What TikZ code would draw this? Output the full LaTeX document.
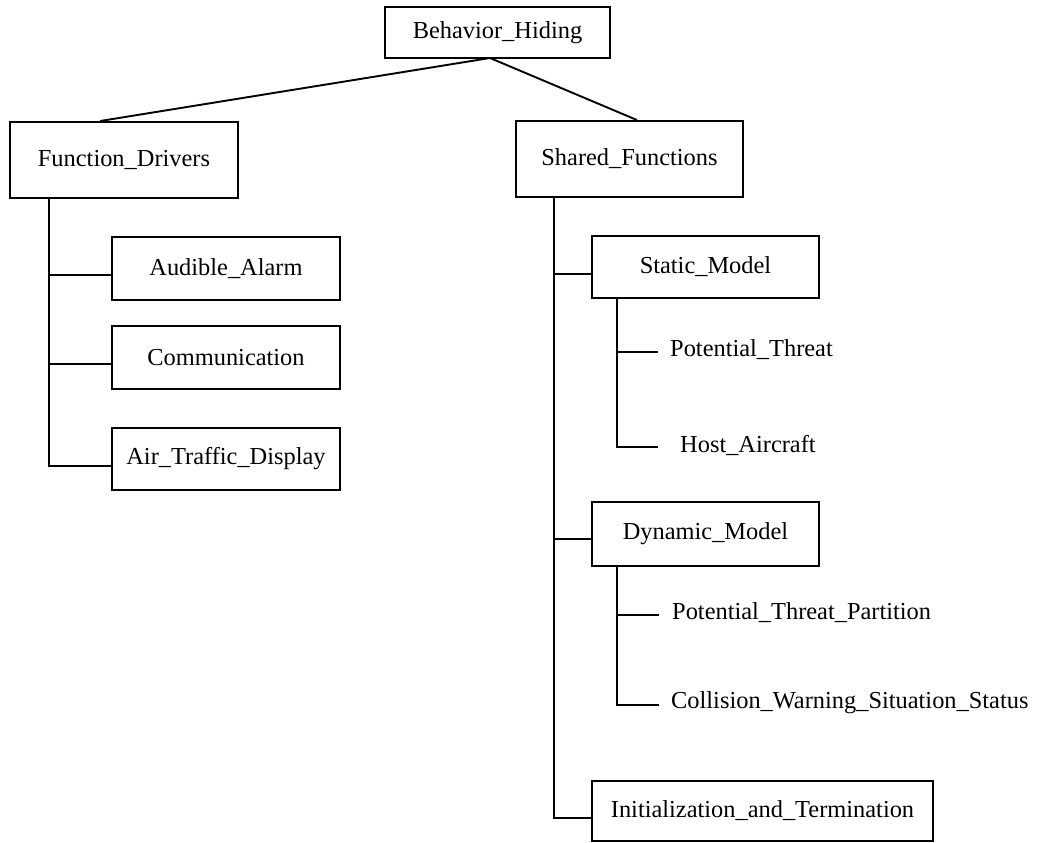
\documentclass[tikz,border=0pt]{standalone}
\usepackage{fontspec}
\setmainfont{Liberation Serif}
\usetikzlibrary{calc}
\begin{document}
\begin{tikzpicture}[x=1pt,y=-1pt,
  every node/.style={font=\fontsize{24.4}{28}\selectfont},
  box/.style={draw,line width=1.9pt,inner sep=0pt,align=center},
  leaf/.style={anchor=west,inner sep=0pt},
  link/.style={line width=1.9pt,line join=miter}]
\useasboundingbox (0,0) rectangle (1037,843);

% modules
\node[box,minimum width=225pt,minimum height=51pt] (bh)  at (497.5,32.5) {Behavior\_Hiding};
\node[box,minimum width=228pt,minimum height=76pt] (fd)  at (124,160)    {Function\_Drivers};
\node[box,minimum width=227pt,minimum height=76pt] (sf)  at (629.5,159)  {Shared\_Functions};
\node[box,minimum width=228pt,minimum height=63pt] (aa)  at (226,268.5)  {Audible\_Alarm};
\node[box,minimum width=228pt,minimum height=63pt] (com) at (226,357.5)  {Communication};
\node[box,minimum width=228pt,minimum height=62pt] (atd) at (226,459)    {Air\_Traffic\_Display};
\node[box,minimum width=227pt,minimum height=62pt] (sm)  at (705.5,267)  {Static\_Model};
\node[box,minimum width=227pt,minimum height=64pt] (dm)  at (705.5,534)  {Dynamic\_Model};
\node[box,minimum width=341pt,minimum height=60pt] (it)  at (762.5,811)  {Initialization\_and\_Termination};

% leaf objects
\node[leaf] (pt)  at (670,350) {Potential\_Threat};
\node[leaf] (ha)  at (680,445) {Host\_Aircraft};
\node[leaf] (ptp) at (672,613) {Potential\_Threat\_Partition};
\node[leaf] (cws) at (671,703) {Collision\_Warning\_Situation\_Status};

% attachment points of the branches
\coordinate (aaj)  at ([yshift=-6.5pt]aa.west);
\coordinate (comj) at ([yshift=-6.5pt]com.west);
\coordinate (atdj) at ([yshift=-7pt]atd.west);
\coordinate (smj)  at ([yshift=-7pt]sm.west);
\coordinate (dmj)  at ([yshift=-5pt]dm.west);
\coordinate (itj)  at ([yshift=-7pt]it.west);
\coordinate (ptj)  at ([xshift=-12pt,yshift=-2pt]pt.west);
\coordinate (haj)  at ([xshift=-22pt,yshift=-2pt]ha.west);
\coordinate (ptpj) at ([xshift=-13pt,yshift=-2pt]ptp.west);
\coordinate (cwsj) at ([xshift=-12pt,yshift=-2pt]cws.west);

% top level
\coordinate (hub) at (490,58);
\draw[link] ($(fd.north)+(-24,0)$) -- (hub) -- ($(sf.north)+(7.5,0)$);

% Function_Drivers subtree
\coordinate (lt) at (49,0);
\draw[link] (fd.south -| lt) |- (atdj);
\draw[link] (lt |- aaj) -- (aaj);
\draw[link] (lt |- comj) -- (comj);

% Shared_Functions subtree
\coordinate (rt) at (554,0);
\draw[link] (sf.south -| rt) |- (itj);
\draw[link] (rt |- smj) -- (smj);
\draw[link] (rt |- dmj) -- (dmj);

% Static_Model subtree
\coordinate (st) at (617,0);
\draw[link] (sm.south -| st) |- (haj);
\draw[link] (st |- ptj) -- (ptj);

% Dynamic_Model subtree
\draw[link] (dm.south -| st) |- (cwsj);
\draw[link] (st |- ptpj) -- (ptpj);
\end{tikzpicture}
\end{document}
